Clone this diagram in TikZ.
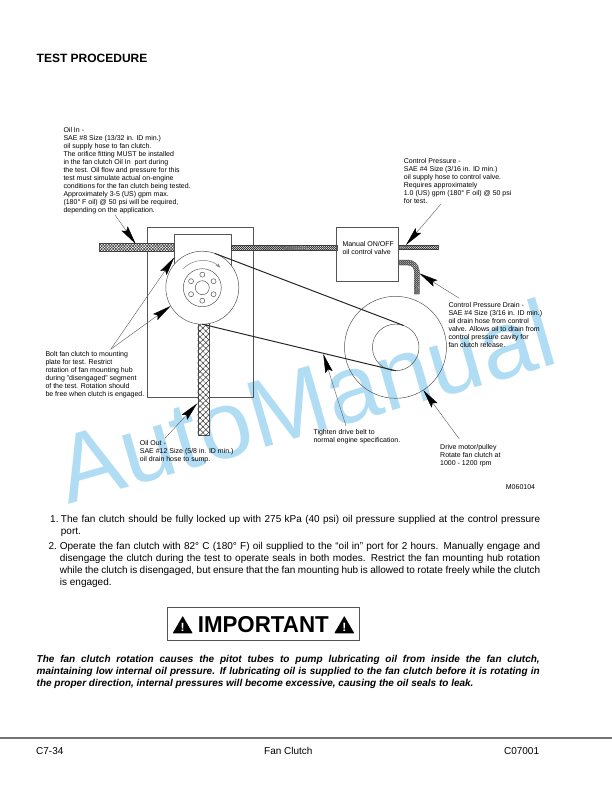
\documentclass[tikz,border=0pt]{standalone}
\usepackage{fontspec}
\setmainfont{Liberation Sans}
\usetikzlibrary{arrows.meta,patterns.meta}
\definecolor{wmblue}{HTML}{B0DDF3}
\definecolor{linegray}{HTML}{555555}
\tikzset{
  note/.style={anchor=north west,inner sep=0pt,align=left,font=\fontsize{7}{8}\selectfont},
  body/.style={anchor=north west,inner sep=0pt,font=\fontsize{10}{12}\selectfont},
  part/.style={draw=linegray,line width=.5pt},
  wheel/.style={circle,draw=linegray,line width=.5pt,inner sep=0pt,outer sep=0pt},
  hose/.style={draw=linegray,line width=.3pt,fill=white,
    postaction={pattern={Lines[angle=45,distance=#1,line width=.5pt]},pattern color=black!80},
    postaction={pattern={Lines[angle=-45,distance=#1,line width=.5pt]},pattern color=black!80}},
  belt/.style={line width=1pt,draw=black!85},
  callout/.style={draw=black!65,line width=.4pt,-{Stealth[length=19pt,width=7.5pt,inset=3pt,color=black]}},
}
\begin{document}
\begin{tikzpicture}[x=1pt,y=-1pt]
  \useasboundingbox (0,0) rectangle (612,792);
  % Watermark
  \node[anchor=base,rotate=16.1,text=wmblue,font=\fontsize{96}{96}\selectfont] (mark) at (315,433.5) {AutoManual};
  % Heading
  \node[anchor=base west,inner sep=0pt,font=\fontsize{12}{14}\selectfont\bfseries] (title) at (36.5,62.3) {TEST PROCEDURE};
  % Mounting plate
  \draw[part] (147.7,227.3) rectangle (253.3,397.7);
  \draw[part] (174.3,234.3) rectangle (231,285);
  % Hoses
  \draw[hose=2pt] (99.3,243.3) rectangle (174.3,251.3);
  \draw[hose=1.4pt] (231,245) rectangle (336.7,250);
  \draw[hose=1.4pt] (398.3,245) rectangle (438.3,249.5);
  \draw[hose=1.4pt] (398.3,260) -- (408,260) arc[start angle=-90,end angle=0,radius=11.3]
    -- (419.3,294) -- (414.3,294) -- (414.3,271.3) arc[start angle=0,end angle=-90,radius=6.3]
    -- (398.3,265) -- cycle;
  \draw[hose=4.1pt] (197.7,323.3) rectangle (209.3,435);
  % Fan clutch
  \node[wheel,fill=white,minimum size=73pt] (fan) at (202.3,287.7) {};
  \node[wheel,minimum size=38pt] (boltring) at (fan.center) {};
  \node[wheel,minimum size=14pt] (fanhub) at (fan.center) {};
  \foreach \a in {30,90,...,330} {
    \draw[part] (fan.center) ++(\a:13) circle (2.5pt);
  }
  \draw[gray,line width=.5pt,-{Stealth[length=5pt,width=3.5pt]}] (183.2,268.6) arc[start angle=225,end angle=312,radius=27];
  % Drive motor
  \node[wheel,minimum size=102pt] (pulley) at (395.5,347.3) {};
  \node[wheel,minimum size=46.6pt] (pulleyhub) at (395.7,347.4) {};
  \draw[belt] (fan.70) -- (pulleyhub.70);
  \draw[belt] (fan.south) -- (pulleyhub.south);
  % Valve
  \node[draw=linegray,line width=.5pt,minimum width=61.6pt,minimum height=54pt,inner sep=0pt,outer sep=0pt] (valve) at (367.5,254.3) {};
  \node[note] (valvetext) at (342.3,241.6) {Manual ON/OFF\\oil control valve};
  % Labels
  \node[note] (oilin) at (63.3,127.2) {Oil In -\\SAE \#8 Size (13/32 in. ID min.)\\oil supply hose to fan clutch.\\The orifice fitting MUST be installed\\in the fan clutch Oil In\ \ port during\\the test. Oil flow and pressure for this\\test must simulate actual on-engine\\conditions for the fan clutch being tested.\\Approximately 3-5 (US) gpm max.\\(180° F oil) @ 50 psi will be required,\\depending on the application.};
  \node[note] (ctrlpress) at (403.7,158.6) {Control Pressure -\\SAE \#4 Size (3/16 in. ID min.)\\oil supply hose to control valve.\\Requires approximately\\1.0 (US) gpm (180° F oil) @ 50 psi\\for test.};
  \node[note] (ctrldrain) at (448.3,302.2) {Control Pressure Drain -\\SAE \#4 Size (3/16 in. ID min.)\\oil drain hose from control\\valve. Allows oil to drain from\\control pressure cavity for\\fan clutch release.};
  \node[note] (boltnote) at (45.3,351.6) {Bolt fan clutch to mounting\\plate for test. Restrict\\rotation of fan mounting hub\\during "disengaged" segment\\of the test. Rotation should\\be free when clutch is engaged.};
  \node[note] (oilout) at (139.7,440.2) {Oil Out -\\SAE \#12 Size (5/8 in. ID min.)\\oil drain hose to sump.};
  \node[note] (tighten) at (313.3,429.6) {Tighten drive belt to\\normal engine specification.};
  \node[note] (drive) at (440,444.2) {Drive motor/pulley\\Rotate fan clutch at\\1000 - 1200 rpm};
  \node[note] (figno) at (505.7,484.6) {M060104};
  % Callout ends
  \coordinate (oilinstart) at (115,215);
  \coordinate (oilintip) at (135.7,244);
  \coordinate (boltstart) at (110.7,349.3);
  \coordinate (bolttip) at (174.3,257.3);
  \coordinate (ctrlstart) at (440.7,204.3);
  \coordinate (ctrltip) at (406,245);
  \coordinate (drainstart) at (459.3,298.3);
  \coordinate (draintip) at (419.3,273.3);
  \coordinate (outstart) at (165,438.3);
  \coordinate (outtip) at (197.3,403.3);
  \coordinate (beltstart) at (346,426);
  \coordinate (belttip) at (323.3,354);
  \coordinate (drivestart) at (459.3,439);
  % Callouts
  \draw[callout] (oilinstart) -- (oilintip);
  \draw[callout] (boltstart) -- (bolttip);
  \draw[callout] (boltstart) -- (fan.210);
  \draw[callout] (ctrlstart) -- (ctrltip);
  \draw[callout] (drainstart) -- (draintip);
  \draw[callout] (outstart) -- (outtip);
  \draw[callout] (beltstart) -- (belttip);
  \draw[callout] (drivestart) -- (pulley.-57);
  % Steps
  \node[body,anchor=base west] (stepone) at (50,522.3) {1.};
  \node[body,text width=479.3pt,align=justify] (steponetext) at (60.7,515) {\tolerance=9999 The fan clutch should be fully locked up with 275 kPa (40 psi) oil pressure supplied at the control pressure\linebreak port.};
  \node[body,anchor=base west] (steptwo) at (48.3,549.3) {2.};
  \node[body,text width=480.3pt,align=justify] (steptwotext) at (59.7,542) {\tolerance=9999 Operate the fan clutch with 82° C (180° F) oil supplied to the “oil in” port for 2 hours. Manually engage and\linebreak disengage the clutch during the test to operate seals in both modes. Restrict the fan mounting hub rotation\linebreak while the clutch is disengaged, but ensure that the fan mounting hub is allowed to rotate freely while the clutch\linebreak is engaged.};
  % Warning
  \node[draw=linegray,line width=.8pt,minimum width=191.7pt,minimum height=33.4pt,inner sep=0pt] (warnbox) at (263.2,624) {};
  \node[inner sep=0pt,font=\fontsize{23}{24}\selectfont\bfseries,xscale=.97] (warntext) at (263.3,624.6) {IMPORTANT};
  \foreach \tx/\nm in {172.7/l,334.3/r} {
    \fill[rounded corners=.5pt] (\tx,633.3) -- ({\tx+10},616) -- ({\tx+20},633.3) -- cycle;
    \node[text=white,inner sep=0pt,font=\fontsize{12}{12}\selectfont\bfseries] (bang\nm) at ({\tx+10},627.5) {!};
  }
  \node[body,text width=503pt,align=justify] (warning) at (36.5,655) {\tolerance=9999\bfseries\itshape The fan clutch rotation causes the pitot tubes to pump lubricating oil from inside the fan clutch,\linebreak maintaining low internal oil pressure. If lubricating oil is supplied to the fan clutch before it is rotating in\linebreak the proper direction, internal pressures will become excessive, causing the oil seals to leak.};
  % Footer
  \draw[draw=black!55,line width=1.6pt] (0,738) -- (612,738);
  \node[body,anchor=base west] (pageno) at (36,754.3) {C7-34};
  \node[body,anchor=base west] (section) at (264,754.3) {Fan Clutch};
  \node[body,anchor=base east] (docno) at (539.3,754.3) {C07001};
\end{tikzpicture}
\end{document}
